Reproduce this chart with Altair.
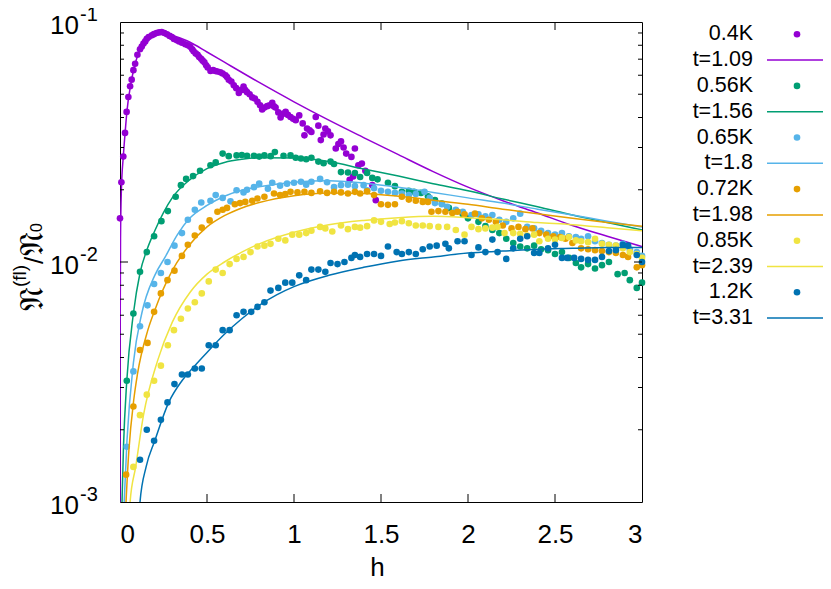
import altair as alt
import pandas as pd

FONT = "Liberation Sans"

# ---------------- data ----------------
series = ["0.4K", "0.56K", "0.65K", "0.72K", "0.85K", "1.2K"]
fits = ["t=1.09", "t=1.56", "t=1.8", "t=1.98", "t=2.39", "t=3.31"]
colors = ["#9400D3", "#009E73", "#56B4E9", "#E69F00", "#F0E442", "#0072B2"]

p04_x = [0.0,0.008,0.019,0.029,0.038,0.048,0.058,0.067,0.077,0.087,0.10,0.115,0.125,0.135,0.145,0.154,0.165,0.183,0.195,0.21,0.225,0.24,0.255,0.27,0.285,0.298,0.31,0.327,0.34,0.356,0.375,0.39,0.404,0.415,0.423,0.435,0.446,0.455,0.466,0.475,0.485,0.495,0.504,0.52,0.535,0.548,0.56,0.577,0.59,0.606,0.615,0.625,0.64,0.654,0.668,0.683,0.695,0.71,0.72,0.73,0.745,0.76,0.775,0.79,0.805,0.817,0.83,0.846,0.86,0.875,0.885,0.894,0.91,0.923,0.94,0.952,0.965,0.98,0.995,1.01,1.03,1.05,1.06,1.075,1.09,1.1,1.125,1.14,1.154,1.17,1.18,1.195,1.21,1.24,1.255,1.27,1.285,1.30,1.32,1.33,1.34,1.35,1.37,1.39,1.41,1.45,1.47]
p04_y = [0.0152,0.0215,0.0275,0.0345,0.0422,0.0487,0.054,0.0575,0.063,0.067,0.073,0.077,0.079,0.0813,0.083,0.0852,0.0865,0.088,0.089,0.09,0.0905,0.0909,0.090,0.0889,0.0875,0.0866,0.085,0.0839,0.083,0.082,0.0808,0.080,0.0788,0.077,0.0755,0.074,0.073,0.0715,0.0703,0.069,0.068,0.066,0.0647,0.0625,0.063,0.0625,0.0622,0.0617,0.061,0.060,0.059,0.0574,0.0565,0.0545,0.053,0.0506,0.052,0.0538,0.052,0.051,0.050,0.0485,0.048,0.0465,0.045,0.0432,0.044,0.0446,0.045,0.046,0.0445,0.044,0.042,0.040,0.0415,0.0422,0.041,0.0402,0.0395,0.039,0.0408,0.0378,0.0337,0.036,0.0354,0.0348,0.0402,0.037,0.0322,0.034,0.036,0.035,0.0337,0.0297,0.031,0.0318,0.030,0.0283,0.022,0.0274,0.0227,0.0297,0.0253,0.0257,0.024,0.0209,0.0181]

p056_x = [0.039,0.077,0.115,0.154,0.196,0.238,0.275,0.32,0.35,0.38,0.42,0.46,0.52,0.55,0.59,0.625,0.67,0.70,0.73,0.77,0.80,0.83,0.866,0.89,0.94,0.98,1.01,1.04,1.07,1.1,1.14,1.17,1.21,1.23,1.27,1.31,1.35,1.38,1.42,1.45,1.48,1.54,1.58,1.62,1.66,1.69,1.73,1.77,1.81,1.85,1.89,1.93,1.97,2.0,2.06,2.10,2.14,2.18,2.22,2.26,2.3,2.34,2.38,2.42,2.46,2.50,2.54,2.58,2.62,2.65,2.69,2.73,2.77,2.81,2.86,2.9,2.93,2.97,3.0]
p056_y = [0.0032,0.0061,0.0091,0.011,0.0128,0.0148,0.0163,0.0187,0.0209,0.0222,0.0228,0.024,0.0253,0.026,0.0283,0.0276,0.0278,0.0279,0.0277,0.0277,0.0275,0.0278,0.0276,0.0287,0.0277,0.0278,0.0272,0.027,0.0268,0.0272,0.0262,0.0258,0.0262,0.0256,0.0237,0.0236,0.0235,0.0226,0.0235,0.0224,0.0221,0.0214,0.0207,0.0196,0.0198,0.0196,0.0194,0.0188,0.0181,0.0175,0.0168,0.0163,0.0158,0.0152,0.0147,0.0141,0.0136,0.0132,0.0125,0.0120,0.0116,0.0114,0.0117,0.0113,0.0112,0.0108,0.011,0.0104,0.0099,0.0095,0.0098,0.0094,0.0097,0.01,0.0089,0.009,0.0084,0.0078,0.0082]

p065_x = [0.039,0.077,0.115,0.158,0.196,0.235,0.273,0.313,0.356,0.39,0.43,0.467,0.52,0.55,0.59,0.635,0.67,0.71,0.73,0.77,0.80,0.85,0.875,0.92,0.96,1.0,1.04,1.07,1.1,1.15,1.19,1.23,1.27,1.31,1.35,1.40,1.42,1.46,1.50,1.54,1.58,1.62,1.66,1.70,1.75,1.78,1.81,1.85,1.88,1.93,1.97,2.02,2.06,2.1,2.14,2.18,2.22,2.26,2.30,2.34,2.38,2.42,2.46,2.50,2.54,2.58,2.62,2.65,2.69,2.73,2.77,2.81,2.85,2.89,2.93,2.97,3.0]
p065_y = [0.0017,0.0035,0.0054,0.0066,0.0081,0.009,0.01,0.0117,0.0132,0.015,0.0165,0.0177,0.018,0.019,0.0185,0.0179,0.0199,0.0195,0.020,0.0205,0.0212,0.0202,0.0214,0.0208,0.0212,0.0214,0.0216,0.021,0.0216,0.0222,0.0215,0.0205,0.0209,0.021,0.0207,0.0209,0.0199,0.0203,0.0198,0.0196,0.0194,0.0193,0.019,0.0192,0.0196,0.0185,0.0176,0.0174,0.017,0.0165,0.0162,0.0157,0.0158,0.0155,0.0157,0.015,0.0147,0.0152,0.0159,0.014,0.0138,0.0135,0.0132,0.013,0.0132,0.0128,0.0127,0.0125,0.0128,0.0122,0.012,0.0118,0.0117,0.0119,0.0113,0.011,0.0106]

p072_x = [0.035,0.077,0.115,0.158,0.196,0.235,0.273,0.313,0.356,0.39,0.43,0.47,0.515,0.56,0.59,0.615,0.66,0.69,0.72,0.76,0.79,0.83,0.885,0.92,0.95,0.98,1.02,1.06,1.1,1.15,1.19,1.23,1.27,1.31,1.35,1.38,1.42,1.46,1.50,1.54,1.58,1.62,1.66,1.70,1.74,1.77,1.79,1.83,1.87,1.91,1.94,1.98,2.04,2.08,2.12,2.16,2.20,2.25,2.29,2.33,2.37,2.41,2.45,2.49,2.53,2.56,2.60,2.65,2.69,2.73,2.77,2.81,2.85,2.89,2.92,2.97,3.0]
p072_y = [0.0013,0.0025,0.0043,0.0046,0.0062,0.0074,0.0084,0.0092,0.0106,0.0118,0.0129,0.0139,0.0149,0.0162,0.0165,0.0168,0.0174,0.0176,0.0178,0.018,0.0184,0.0187,0.0193,0.019,0.0192,0.0196,0.0195,0.0196,0.0194,0.0197,0.0194,0.0196,0.0195,0.0193,0.0196,0.0193,0.0197,0.019,0.0174,0.0173,0.0174,0.0187,0.0182,0.018,0.0178,0.0178,0.0162,0.0163,0.0162,0.016,0.0162,0.0158,0.0159,0.0152,0.015,0.0147,0.0142,0.0138,0.014,0.0137,0.0138,0.0132,0.013,0.0128,0.0127,0.0125,0.012,0.0114,0.0113,0.0112,0.0111,0.011,0.0109,0.0107,0.0105,0.0095,0.0097]

p085_x = [0.077,0.115,0.154,0.196,0.235,0.275,0.31,0.35,0.39,0.43,0.47,0.51,0.55,0.59,0.63,0.67,0.71,0.75,0.79,0.83,0.865,0.91,0.95,0.99,1.03,1.07,1.1,1.15,1.18,1.22,1.27,1.31,1.35,1.38,1.42,1.46,1.50,1.55,1.58,1.62,1.66,1.70,1.74,1.78,1.83,1.88,1.93,1.98,2.02,2.06,2.10,2.14,2.17,2.21,2.26,2.30,2.34,2.38,2.41,2.46,2.50,2.54,2.58,2.62,2.65,2.69,2.73,2.77,2.81,2.85,2.89,2.93,2.97,3.0]
p085_y = [0.0014,0.0023,0.0028,0.0032,0.0037,0.0045,0.0052,0.0058,0.0064,0.0068,0.0074,0.0083,0.0093,0.009,0.0098,0.0103,0.0105,0.011,0.0116,0.0117,0.0119,0.0125,0.0123,0.013,0.013,0.0132,0.0135,0.014,0.0138,0.0134,0.0142,0.0137,0.014,0.0139,0.0141,0.0149,0.0147,0.0144,0.0146,0.0148,0.0145,0.0142,0.0142,0.0141,0.014,0.014,0.0136,0.013,0.014,0.0137,0.0138,0.0139,0.014,0.0132,0.0132,0.0131,0.0129,0.013,0.0122,0.0125,0.0124,0.0126,0.0127,0.0123,0.0122,0.0121,0.0125,0.0119,0.0118,0.0117,0.0114,0.011,0.0108,0.0104]

p12_x = [0.115,0.154,0.196,0.235,0.273,0.313,0.356,0.39,0.43,0.47,0.51,0.55,0.59,0.63,0.67,0.71,0.754,0.79,0.83,0.865,0.91,0.95,0.99,1.03,1.07,1.1,1.14,1.18,1.21,1.25,1.29,1.33,1.35,1.38,1.42,1.46,1.5,1.54,1.59,1.62,1.66,1.70,1.74,1.78,1.82,1.87,1.89,1.94,1.98,2.02,2.06,2.10,2.14,2.17,2.22,2.26,2.30,2.34,2.38,2.41,2.46,2.50,2.54,2.57,2.61,2.65,2.69,2.73,2.77,2.81,2.85,2.89,2.92,2.97,3.0]
p12_y = [0.0015,0.002,0.0018,0.0022,0.0026,0.0031,0.0034,0.0034,0.0036,0.0036,0.0045,0.0045,0.0052,0.0052,0.006,0.0062,0.0062,0.0065,0.0068,0.0076,0.0078,0.0082,0.0082,0.0088,0.0084,0.0093,0.0093,0.0091,0.0099,0.0098,0.0100,0.0104,0.0107,0.0105,0.0108,0.0108,0.0106,0.0116,0.011,0.0108,0.011,0.0108,0.0113,0.0116,0.0117,0.0119,0.0114,0.0122,0.0122,0.0107,0.0115,0.011,0.0124,0.011,0.0103,0.0114,0.0125,0.0128,0.0109,0.0109,0.0114,0.0118,0.0104,0.0104,0.0104,0.0103,0.0102,0.0102,0.0105,0.0111,0.0112,0.0118,0.0117,0.0107,0.01]

f109_x = [0.0,0.001,0.003,0.008,0.019,0.03,0.04,0.06,0.08,0.1,0.13,0.16,0.2,0.24,0.28,0.32,0.4,0.5,0.6,0.8,1.0,1.2,1.4,1.6,1.8,2.0,2.2,2.4,2.6,2.8,3.0]
f109_y = [0.0008,0.005,0.0125,0.02,0.0275,0.035,0.0425,0.054,0.064,0.072,0.081,0.086,0.0895,0.0905,0.089,0.087,0.0825,0.075,0.068,0.056,0.0465,0.039,0.033,0.028,0.0238,0.0205,0.018,0.016,0.0142,0.0128,0.0116]
f156_x = [0.008,0.02,0.039,0.077,0.115,0.154,0.2,0.3,0.4,0.5,0.6,0.7,0.8,1.0,1.2,1.4,1.6,1.8,2.0,2.2,2.4,2.6,2.8,3.0]
f156_y = [0.0008,0.0017,0.0032,0.0061,0.009,0.0112,0.0135,0.0185,0.022,0.0245,0.026,0.0268,0.0272,0.0271,0.0262,0.0244,0.0228,0.0212,0.0198,0.0183,0.017,0.0157,0.0146,0.0136]
f18_x = [0.018,0.04,0.077,0.125,0.2,0.26,0.33,0.4,0.5,0.6,0.7,0.8,1.0,1.2,1.4,1.6,1.8,2.0,2.2,2.4,2.6,2.8,3.0]
f18_y = [0.0008,0.0018,0.0038,0.0061,0.0088,0.0105,0.013,0.0152,0.0172,0.0188,0.0199,0.0206,0.0215,0.0218,0.0213,0.0205,0.0195,0.0185,0.0176,0.0166,0.0157,0.0148,0.014]
f198_x = [0.028,0.05,0.08,0.1,0.16,0.2,0.3,0.4,0.5,0.6,0.7,0.8,1.0,1.2,1.4,1.6,1.8,2.0,2.2,2.4,2.6,2.8,3.0]
f198_y = [0.0008,0.0016,0.0027,0.0034,0.0052,0.0063,0.0092,0.0118,0.014,0.0156,0.0168,0.0177,0.0189,0.0194,0.0193,0.0188,0.0181,0.0174,0.0166,0.0159,0.0152,0.0146,0.0141]
f239_x = [0.05,0.058,0.09,0.135,0.217,0.3,0.404,0.5,0.6,0.7,0.8,1.0,1.2,1.4,1.6,1.8,2.0,2.2,2.4,2.6,2.8,3.0]
f239_y = [0.0008,0.001,0.0014,0.0023,0.0039,0.0056,0.0075,0.0089,0.01,0.011,0.0119,0.0133,0.0143,0.0149,0.0153,0.0155,0.0153,0.015,0.0146,0.0143,0.0139,0.0135]
f331_x = [0.105,0.115,0.15,0.2,0.28,0.356,0.43,0.5,0.6,0.7,0.8,0.9,1.0,1.2,1.4,1.6,1.8,2.0,2.2,2.4,2.6,2.8,3.0]
f331_y = [0.0008,0.001,0.0014,0.0018,0.0026,0.0032,0.0037,0.0042,0.005,0.0058,0.0066,0.0073,0.0079,0.0088,0.0095,0.0101,0.0105,0.0109,0.0111,0.0113,0.0114,0.0115,0.0115]

x_tick_values = [0, 0.5, 1, 1.5, 2, 2.5, 3]
x_inner_ticks = [0.5, 1, 1.5, 2, 2.5]
y_major = [0.01]
y_minor = [0.002,0.003,0.004,0.005,0.006,0.007,0.008,0.009,0.02,0.03,0.04,0.05,0.06,0.07,0.08,0.09]
y_label_vals = [0.1, 0.01, 0.001]
y_label_exps = ["-1", "-2", "-3"]
# y-axis title pieces: 𝔑^(fl) / 𝔑_0
title_parts = ["𝔑", "(fl)", "/", "𝔑", "0"]

points = [(p04_x, p04_y), (p056_x, p056_y), (p065_x, p065_y),
          (p072_x, p072_y), (p085_x, p085_y), (p12_x, p12_y)]
lines = [(f109_x, f109_y), (f156_x, f156_y), (f18_x, f18_y),
         (f198_x, f198_y), (f239_x, f239_y), (f331_x, f331_y)]

W, H = 522, 480

xscale = alt.Scale(domain=[0, 3], nice=False, zero=False)
yscale = alt.Scale(type="log", domain=[0.001, 0.1], nice=False)

xaxis = alt.Axis(
    values=x_tick_values, format="~g", ticks=False, tickSize=0,
    domain=False, grid=False, labelFont=FONT, labelFontSize=26,
    labelColor="black", labelPadding=40, labelBaseline="alphabetic",
    title="h", titleFont=FONT, titleFontSize=26, titleFontWeight="normal",
    titleColor="black", titleX=257, titleY=73, titleBaseline="alphabetic",
    titleAlign="center")
yaxis = alt.Axis(labels=False, ticks=False, tickSize=0, domain=False, grid=False,
                 title="")


def X(field="x"):
    return alt.X(f"{field}:Q", scale=xscale, axis=xaxis)


def Y(field="y"):
    return alt.Y(f"{field}:Q", scale=yscale, axis=yaxis)


layers = []
for i in range(6):
    px, py = points[i]
    dfp = pd.DataFrame({"x": list(px)[:len(py)], "y": list(py)[:len(px)]})
    lx, ly = lines[i]
    dfl = pd.DataFrame({"x": list(lx)[:len(ly)], "y": list(ly)[:len(lx)]})
    layers.append(alt.Chart(dfp).mark_circle(size=44, opacity=1, color=colors[i])
                  .encode(x=X(), y=Y()))
    layers.append(alt.Chart(dfl).mark_line(strokeWidth=1.5, color=colors[i], clip=True,
                                           interpolate="monotone")
                  .encode(x=X(), y=Y()))

# ticks (inward, mirrored)
df_xt = pd.DataFrame({"x": x_inner_ticks})
for (a, b) in [(H, H - 8), (0, 8)]:
    layers.append(alt.Chart(df_xt).mark_rule(color="black", strokeWidth=1)
                  .encode(x=X(), y=alt.value(a), y2=alt.value(b)))
for vals, ln in [(y_major, 8), (y_minor, 4)]:
    dft = pd.DataFrame({"y": vals})
    for (a, b) in [(0, ln), (W, W - ln)]:
        layers.append(alt.Chart(dft).mark_rule(color="black", strokeWidth=1)
                      .encode(y=Y(), x=alt.value(a), x2=alt.value(b)))

# y tick labels 10^n
df_yl = pd.DataFrame({"y": y_label_vals, "e": y_label_exps})
layers.append(alt.Chart(df_yl).mark_text(text="10", font=FONT, fontSize=26, align="right",
                                         baseline="alphabetic", dy=12, color="black")
              .encode(y=Y(), x=alt.value(-41)))
layers.append(alt.Chart(df_yl).mark_text(font=FONT, fontSize=20, align="left",
                                         baseline="alphabetic", dy=-1, color="black")
              .encode(y=Y(), x=alt.value(-40), text="e:N"))

# y-axis title, composed of pieces (rotated)
part_style = [("DejaVu Sans", 34, -77, 289), (FONT, 19, -94, 265), (FONT, 26, -77, 242),
              ("DejaVu Sans", 34, -77, 234), (FONT, 16, -78, 210)]
for txt, (fnt, fs, px_, py_) in zip(title_parts, part_style):
    layers.append(alt.Chart(pd.DataFrame({"t": [txt]})).mark_text(
        font=fnt, fontSize=fs, angle=270, align="left", baseline="alphabetic",
        color="black").encode(text="t:N", x=alt.value(px_), y=alt.value(py_)))

data_layer = alt.layer(*layers)

# legend
leg_rows = []
for i in range(6):
    leg_rows.append({"r": 2 * i, "lab": series[i], "c": colors[i], "k": "p"})
    leg_rows.append({"r": 2 * i + 1, "lab": fits[i], "c": colors[i], "k": "l"})
df_leg = pd.DataFrame(leg_rows)
leg_y = alt.Y("r:Q", scale=alt.Scale(domain=[0, 11], range=[12.3, 296.1]), axis=None)
leg_text = alt.Chart(df_leg).mark_text(font=FONT, fontSize=21.5, align="right",
                                       baseline="middle", color="black").encode(
    y=leg_y, x=alt.value(633), text="lab:N")
leg_pts = alt.Chart(df_leg).transform_filter("datum.k == 'p'").mark_circle(
    size=44, opacity=1).encode(y=leg_y, x=alt.value(677),
                               color=alt.Color("c:N", scale=None))
leg_lines = alt.Chart(df_leg).transform_filter("datum.k == 'l'").mark_rule(
    strokeWidth=1.5).encode(y=leg_y, x=alt.value(647), x2=alt.value(706),
                            color=alt.Color("c:N", scale=None))
legend_layer = alt.layer(leg_text, leg_pts, leg_lines)

chart = alt.layer(data_layer, legend_layer).resolve_scale(y="independent").properties(
    width=W, height=H,
    padding={"left": 112, "top": 14, "right": 181, "bottom": 79},
    autosize=alt.AutoSizeParams(type="none"),
    background="white",
).configure_view(stroke="black", strokeWidth=1)

chart.save("out.html", embed_options={"renderer": "svg", "actions": False})
